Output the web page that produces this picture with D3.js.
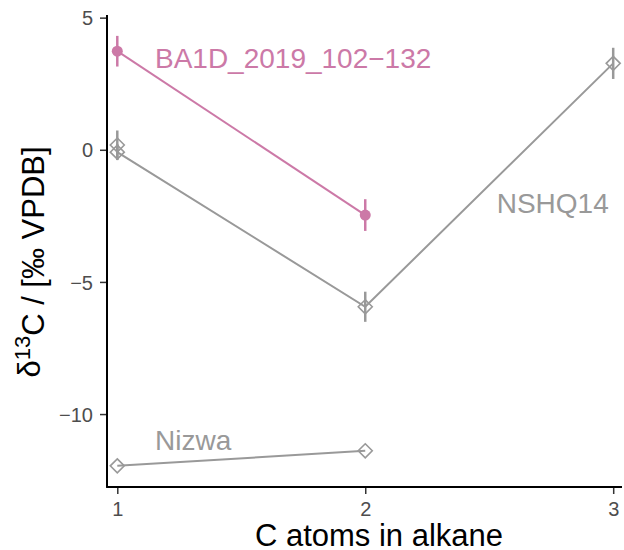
<!DOCTYPE html>
<html>
<head>
<meta charset="utf-8">
<script src="https://cdn.jsdelivr.net/npm/d3@7"></script>
<style>
  html, body { margin: 0; padding: 0; background: #fff; }
  svg { display: block; font-family: "Liberation Sans", Arial, Helvetica, sans-serif; }
</style>
</head>
<body>
<svg id="chart" width="624" height="550"></svg>
<script>
// δ13C of C1–C3 alkanes for three sites
const xTicks = [1, 2, 3];
const yTicks = [-10, -5, 0, 5];

const ba1dX   = [1, 2];
const ba1dY   = [3.73, -2.47];
const ba1dErr = [0.58, 0.6];

const nshqX   = [1, 1, 2, 3];
const nshqY   = [0.18, -0.09, -5.94, 3.27];
const nshqErr = [0.55, 0.3, 0.57, 0.59];

const nizwaX   = [1, 2];
const nizwaY   = [-11.96, -11.39];

const seriesNames = ["BA1D_2019_102\u2212132", "NSHQ14", "Nizwa"];

const pink = "#CC79A7";
const grey = "#999999";

const svg = d3.select("#chart");
const mLeft = 107, mRight = 622, mTop = 15, mBottom = 487;

const x = d3.scaleLinear().domain([0.9585, 3.0355]).range([mLeft, mRight]);
const y = d3.scaleLinear().domain([-12.76, 5.1]).range([mBottom, mTop]);

// axes
const xAxis = d3.axisBottom(x).tickValues(xTicks).tickFormat(d3.format("d")).tickSize(7).tickPadding(8);
const yAxis = d3.axisLeft(y).tickValues(yTicks)
  .tickFormat(d => d < 0 ? "\u2212" + Math.abs(d) : String(d)).tickSize(7).tickPadding(7);

const gx = svg.append("g").attr("transform", `translate(0,${mBottom})`).call(xAxis);
const gy = svg.append("g").attr("transform", `translate(${mLeft},0)`).call(yAxis);
[gx, gy].forEach(g => {
  g.select(".domain").remove();
  g.selectAll(".tick line").attr("stroke", "#333").attr("stroke-width", 1.5);
  g.selectAll(".tick text").attr("fill", "#4D4D4D").style("font-size", "20px").style("font-family", "Liberation Sans, Arial, sans-serif");
});
gy.selectAll(".tick text").attr("dy", "0.36em");

svg.append("line").attr("x1", mLeft).attr("x2", mLeft).attr("y1", mTop).attr("y2", mBottom + 0.75)
  .attr("stroke", "#000").attr("stroke-width", 2);
svg.append("line").attr("x1", mLeft - 0.75).attr("x2", mRight).attr("y1", mBottom).attr("y2", mBottom)
  .attr("stroke", "#000").attr("stroke-width", 2);

// axis titles
svg.append("text").attr("x", 379).attr("y", 546).attr("text-anchor", "middle")
  .style("font-size", "31px").attr("fill", "#000").text("C atoms in alkane");

const yt = svg.append("text").attr("transform", `translate(40,262) rotate(-90)`)
  .attr("text-anchor", "middle").style("font-size", "31px").attr("fill", "#000");
yt.append("tspan").text("\u03B4");
yt.append("tspan").attr("dy", "-0.45em").style("font-size", "22px").text("13");
yt.append("tspan").attr("dy", "0.45em").text("C / [\u2030 VPDB]");

const plot = svg.append("g");
const line = d3.line().x(d => x(d[0])).y(d => y(d[1]));

function drawSeries(xs, ys, errs, colour, shape) {
  const pts = xs.map((v, i) => [v, ys[i], errs ? errs[i] : 0]);
  plot.append("path").datum(pts).attr("d", line)
    .attr("fill", "none").attr("stroke", colour).attr("stroke-width", 2);
  if (errs) {
    plot.selectAll(null).data(pts).join("line")
      .attr("x1", d => x(d[0])).attr("x2", d => x(d[0]))
      .attr("y1", d => y(d[1] + d[2])).attr("y2", d => y(d[1] - d[2]))
      .attr("stroke", colour).attr("stroke-width", 2.5);
  }
  if (shape === "circle") {
    plot.selectAll(null).data(pts).join("circle")
      .attr("cx", d => x(d[0])).attr("cy", d => y(d[1])).attr("r", 5.5)
      .attr("fill", colour);
  } else {
    const s = 7;
    plot.selectAll(null).data(pts).join("path")
      .attr("d", d => {
        const cx = x(d[0]), cy = y(d[1]);
        return `M${cx},${cy - s}L${cx + s},${cy}L${cx},${cy + s}L${cx - s},${cy}Z`;
      })
      .attr("fill", "none").attr("stroke", colour).attr("stroke-width", 1.6);
  }
}

drawSeries(nizwaX, nizwaY, null, grey, "diamond");
drawSeries(nshqX, nshqY, nshqErr, grey, "diamond");
drawSeries(ba1dX, ba1dY, ba1dErr, pink, "circle");

// series labels
const labelPos = [[1.152, 3.09, pink], [2.53, -2.4, grey], [1.152, -11.37, grey]];
seriesNames.forEach((name, i) => {
  const [lx, ly, c] = labelPos[i];
  svg.append("text").attr("x", x(lx)).attr("y", y(ly))
    .style("font-size", "28px").attr("fill", c).text(name);
});
</script>
</body>
</html>
